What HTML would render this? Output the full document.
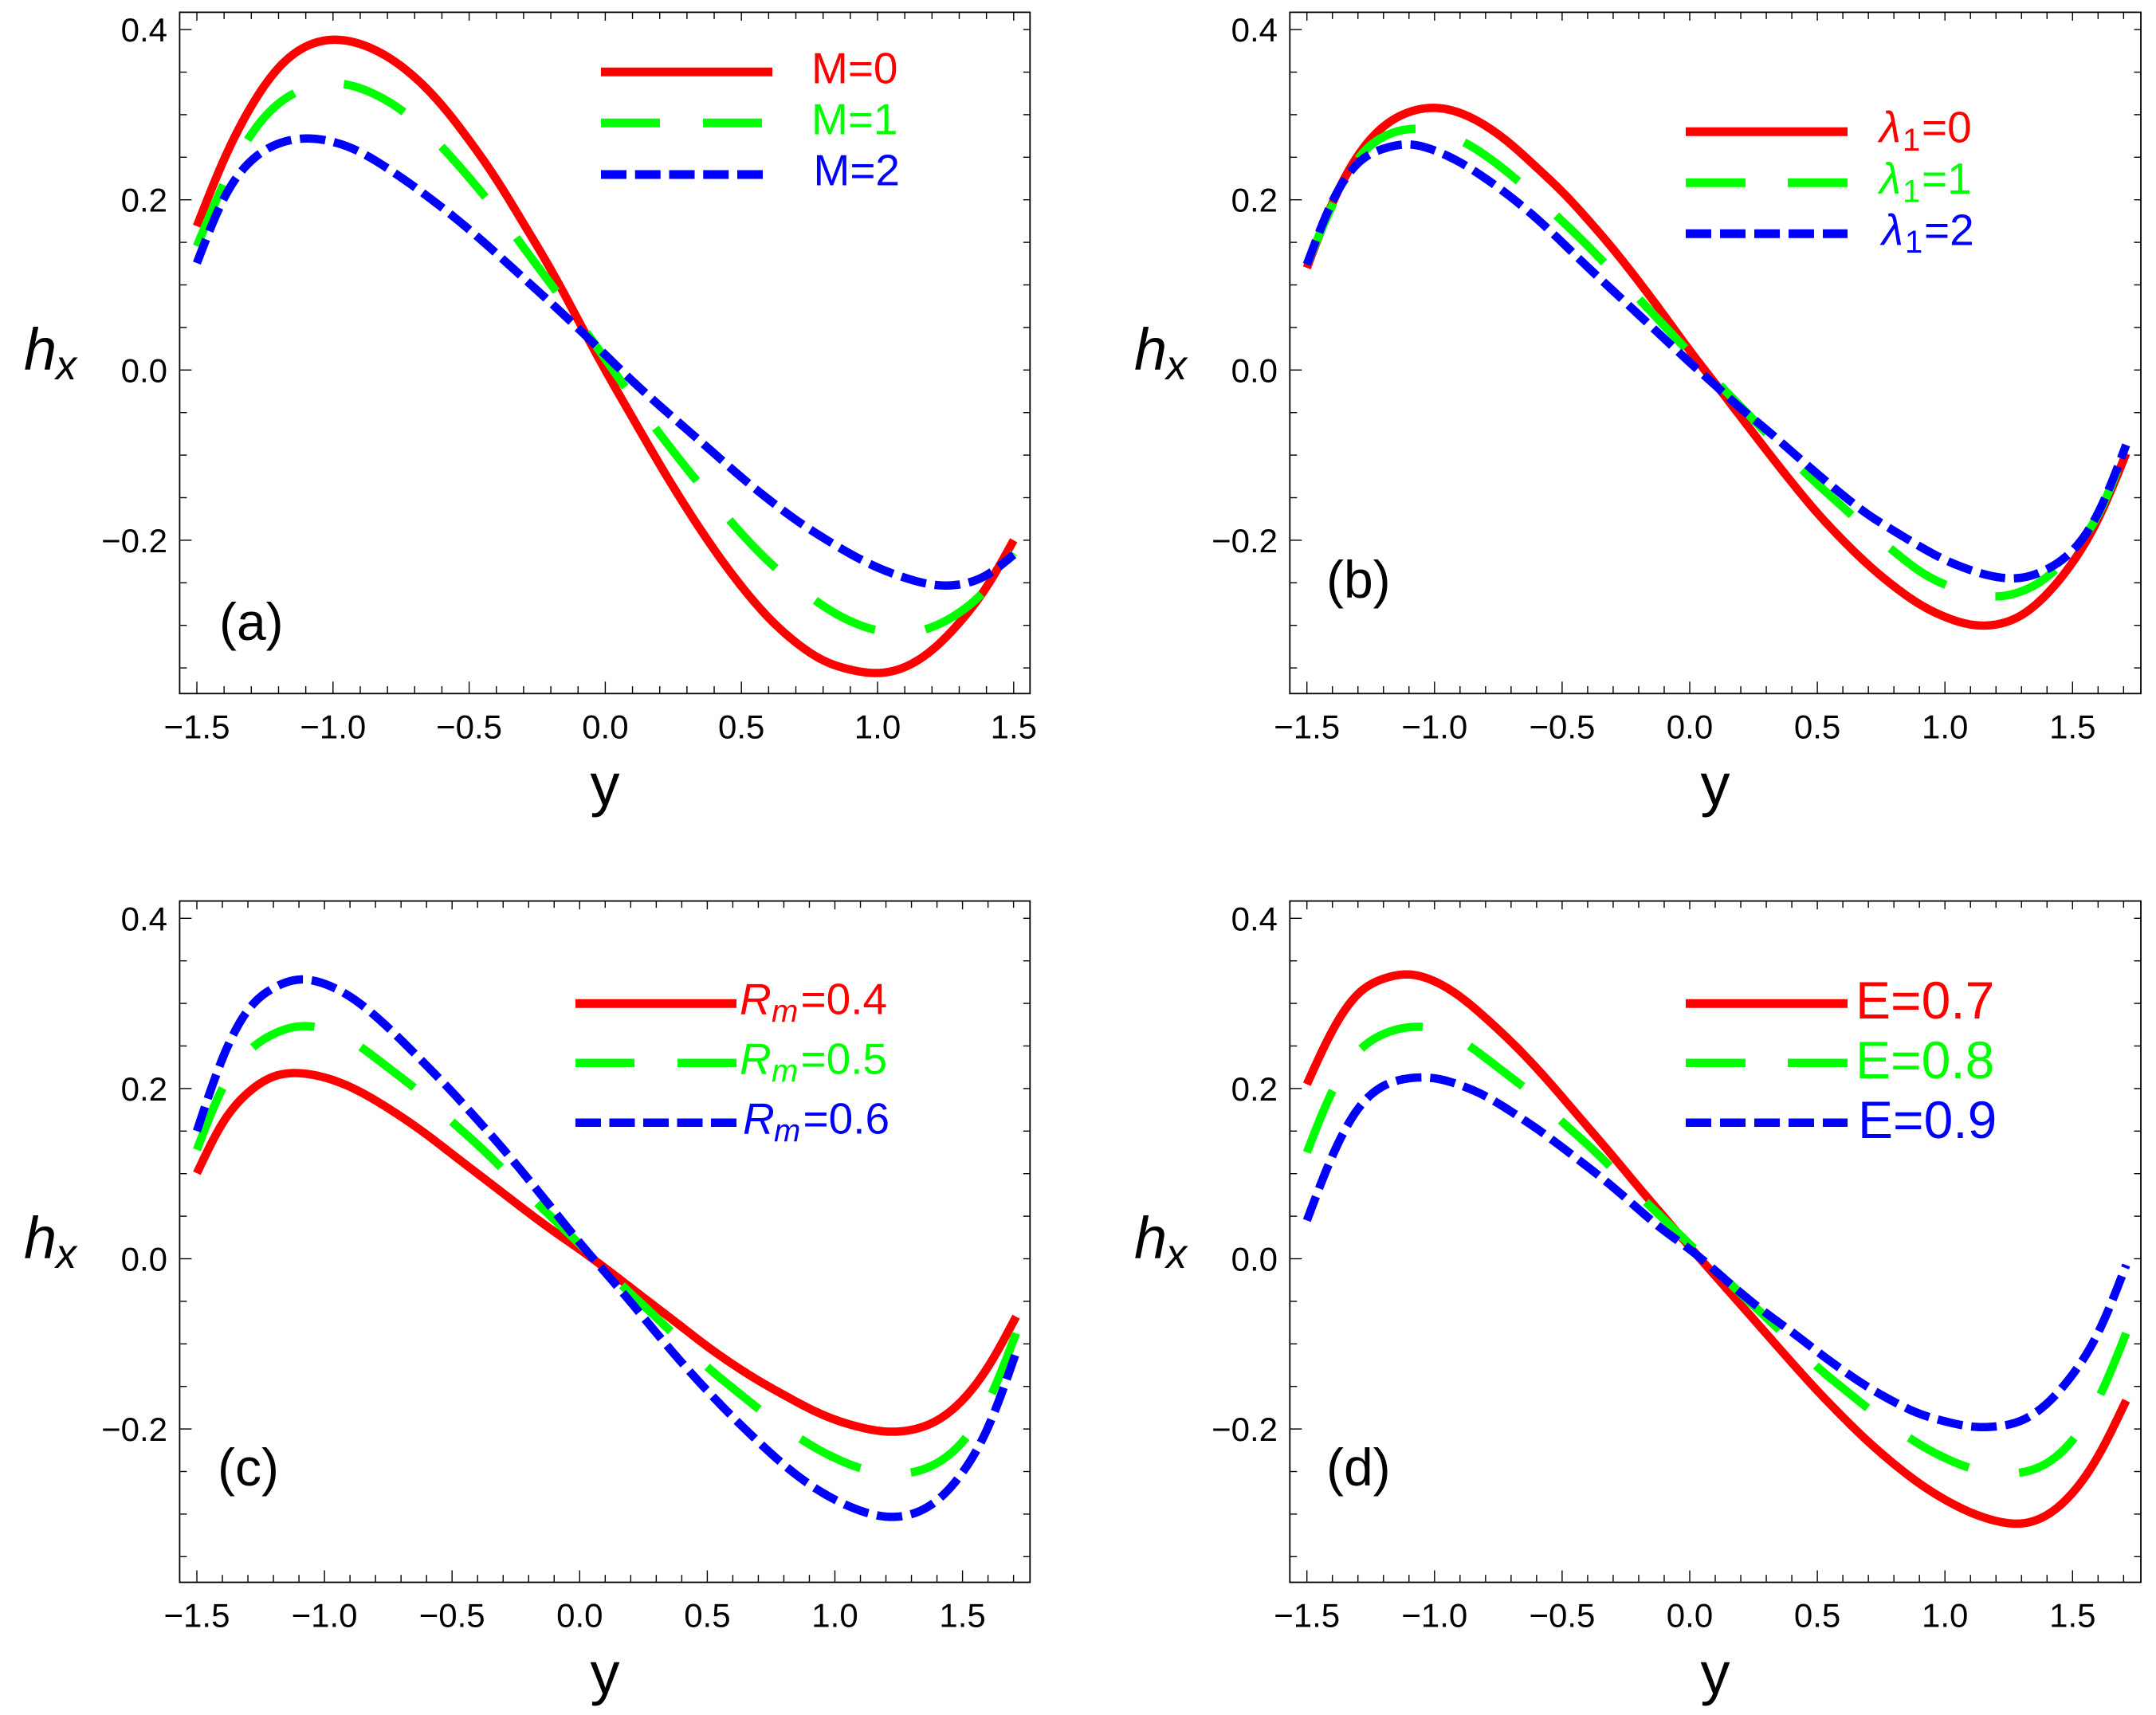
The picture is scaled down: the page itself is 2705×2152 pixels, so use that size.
<!DOCTYPE html>
<html lang="en">
<head>
<meta charset="utf-8">
<title>Induced magnetic field profiles</title>
<style>
html,body{margin:0;padding:0;background:#fff;}
svg{display:block;}
text{font-family:"Liberation Sans",sans-serif;}
</style>
</head>
<body>
<svg id="figure" xmlns="http://www.w3.org/2000/svg" width="2705" height="2152" viewBox="0 0 2705 2152">
<rect x="0" y="0" width="2705" height="2152" fill="#fff"/>

<g>
<line x1="754" x2="969" y1="90.3" y2="90.3" stroke="#f00" stroke-width="11"/>
<line x1="754" x2="957" y1="154.3" y2="154.3" stroke="#0f0" stroke-width="11" stroke-dasharray="74 54"/>
<line x1="754" x2="957" y1="219" y2="219" stroke="#00f" stroke-width="11" stroke-dasharray="32 10.75"/>
<text x="1018" y="104.3" font-size="55" fill="#f00">M=0</text>
<text x="1018" y="168.3" font-size="55" fill="#0f0">M=1</text>
<text x="1020.5" y="232.7" font-size="55" fill="#00f">M=2</text>
</g>

<g>
<line x1="2115" x2="2318" y1="165.3" y2="165.3" stroke="#f00" stroke-width="11"/>
<line x1="2115" x2="2318" y1="229.3" y2="229.3" stroke="#0f0" stroke-width="11" stroke-dasharray="75 53"/>
<line x1="2115" x2="2318" y1="293.3" y2="293.3" stroke="#00f" stroke-width="11" stroke-dasharray="32 11"/>
<text font-size="55" fill="#f00"><tspan x="2358" y="178.3" font-style="italic">λ</tspan><tspan x="2387" y="189" font-size="40">1</tspan><tspan x="2411" y="178.3">=0</tspan></text>
<text font-size="55" fill="#0f0"><tspan x="2358" y="243" font-style="italic">λ</tspan><tspan x="2387" y="253.5" font-size="40">1</tspan><tspan x="2411" y="243">=1</tspan></text>
<text font-size="55" fill="#00f"><tspan x="2361" y="307.3" font-style="italic">λ</tspan><tspan x="2390" y="317" font-size="40">1</tspan><tspan x="2414" y="307.3">=2</tspan></text>
</g>

<g>
<line x1="722" x2="924" y1="1259.3" y2="1259.3" stroke="#f00" stroke-width="11"/>
<line x1="722" x2="924" y1="1333.7" y2="1333.7" stroke="#0f0" stroke-width="10.5" stroke-dasharray="74 54"/>
<line x1="722" x2="924" y1="1408.7" y2="1408.7" stroke="#00f" stroke-width="10.5" stroke-dasharray="32 10.5"/>
<text font-size="55" fill="#f00"><tspan x="928" y="1272.7" font-style="italic">R</tspan><tspan x="968" y="1282.7" font-size="40" font-style="italic">m</tspan><tspan x="1004.5" y="1272.7">=0.4</tspan></text>
<text font-size="55" fill="#0f0"><tspan x="928" y="1347.3" font-style="italic">R</tspan><tspan x="968" y="1357.3" font-size="40" font-style="italic">m</tspan><tspan x="1004.5" y="1347.3">=0.5</tspan></text>
<text font-size="55" fill="#00f"><tspan x="932" y="1422.3" font-style="italic">R</tspan><tspan x="971" y="1432.3" font-size="40" font-style="italic">m</tspan><tspan x="1007.5" y="1422.3">=0.6</tspan></text>
</g>

<g>
<line x1="2115" x2="2318" y1="1259.3" y2="1259.3" stroke="#f00" stroke-width="11"/>
<line x1="2115" x2="2318" y1="1333.7" y2="1333.7" stroke="#0f0" stroke-width="10.5" stroke-dasharray="75 53"/>
<line x1="2115" x2="2318" y1="1408.7" y2="1408.7" stroke="#00f" stroke-width="10.5" stroke-dasharray="32 11"/>
<text x="2328" y="1278" font-size="66" fill="#f00">E=0.7</text>
<text x="2328" y="1353" font-size="66" fill="#0f0">E=0.8</text>
<text x="2331" y="1428" font-size="66" fill="#00f">E=0.9</text>
</g>
</svg>

<script>
// ---- shared axis values ----
const yTickLabels = ["0.4", "0.2", "0.0", "\u22120.2"];
const yTickValues = [0.4, 0.2, 0, -0.2];
const yMinorValues = [0.4, 0.35, 0.3, 0.25, 0.2, 0.15, 0.1, 0.05, 0, -0.05, -0.1, -0.15, -0.2, -0.25, -0.3, -0.35];
const xTickLabels = ["\u22121.5", "\u22121.0", "\u22120.5", "0.0", "0.5", "1.0", "1.5"];
const xTickValues = [-1.5, -1, -0.5, 0, 0.5, 1, 1.5];
const xMinorShort = [-1.5,-1.4,-1.3,-1.2,-1.1,-1.0,-0.9,-0.8,-0.7,-0.6,-0.5,-0.4,-0.3,-0.2,-0.1,0,0.1,0.2,0.3,0.4,0.5,0.6,0.7,0.8,0.9,1.0,1.1,1.2,1.3,1.4,1.5];
const xMinorLong = [-1.5,-1.4,-1.3,-1.2,-1.1,-1.0,-0.9,-0.8,-0.7,-0.6,-0.5,-0.4,-0.3,-0.2,-0.1,0,0.1,0.2,0.3,0.4,0.5,0.6,0.7,0.8,0.9,1.0,1.1,1.2,1.3,1.4,1.5,1.6,1.7];

// ---- categories (y coordinate of the channel) ----
const xShort = [-1.5,-1.4,-1.3,-1.2,-1.1,-1.0,-0.9,-0.8,-0.7,-0.6,-0.5,-0.4,-0.3,-0.2,-0.1,0,0.1,0.2,0.3,0.4,0.5,0.6,0.7,0.8,0.9,1.0,1.1,1.2,1.3,1.4,1.5];
const xLong = [-1.5,-1.4,-1.3,-1.2,-1.1,-1.0,-0.9,-0.8,-0.7,-0.6,-0.5,-0.4,-0.3,-0.2,-0.1,0,0.1,0.2,0.3,0.4,0.5,0.6,0.7,0.8,0.9,1.0,1.1,1.2,1.3,1.4,1.5,1.6,1.71];

// ---- panel (a) series ----
const seriesM0 = [0.169,0.2475,0.310,0.355,0.380,0.388,0.383,0.368,0.344,0.311,0.270,0.224,0.172,0.118,0.059,0.000,-0.056,-0.111,-0.163,-0.211,-0.254,-0.291,-0.320,-0.341,-0.352,-0.356,-0.349,-0.329,-0.297,-0.255,-0.200];
const seriesM1 = [0.1455,0.2195,0.277,0.313,0.331,0.337,0.331,0.316,0.293,0.262,0.226,0.187,0.144,0.101,0.058,0.013,-0.032,-0.075,-0.116,-0.155,-0.192,-0.225,-0.253,-0.277,-0.295,-0.306,-0.309,-0.302,-0.285,-0.257,-0.215];
const seriesM2 = [0.1256,0.202,0.246,0.266,0.272,0.268,0.256,0.237,0.215,0.191,0.165,0.137,0.108,0.079,0.049,0.018,-0.013,-0.042,-0.070,-0.098,-0.126,-0.152,-0.176,-0.197,-0.216,-0.232,-0.244,-0.252,-0.252,-0.241,-0.217];

// ---- panel (b) series ----
const seriesL0 = [0.120,0.196,0.252,0.286,0.303,0.308,0.302,0.287,0.265,0.238,0.2095,0.177,0.142,0.104,0.064,0.023,-0.016,-0.055,-0.094,-0.132,-0.168,-0.200,-0.229,-0.254,-0.275,-0.290,-0.299,-0.299,-0.288,-0.263,-0.226,-0.175,-0.098];
const seriesL1 = [0.124,0.194,0.248,0.274,0.283,0.281,0.270,0.252,0.229,0.203,0.175,0.146,0.115,0.084,0.052,0.020,-0.012,-0.043,-0.074,-0.105,-0.134,-0.161,-0.188,-0.213,-0.236,-0.252,-0.262,-0.266,-0.260,-0.243,-0.213,-0.170,-0.091];
const seriesL2 = [0.124,0.198,0.243,0.260,0.265,0.258,0.244,0.225,0.203,0.178,0.150,0.121,0.093,0.065,0.037,0.009,-0.018,-0.045,-0.070,-0.096,-0.122,-0.147,-0.170,-0.189,-0.207,-0.223,-0.235,-0.243,-0.244,-0.234,-0.212,-0.168,-0.088];

// ---- panel (c) series ----
const seriesR4 = [0.1005,0.159,0.195,0.214,0.218,0.213,0.202,0.186,0.167,0.146,0.123,0.100,0.077,0.054,0.032,0.011,-0.011,-0.034,-0.057,-0.080,-0.103,-0.124,-0.143,-0.160,-0.176,-0.189,-0.198,-0.203,-0.201,-0.190,-0.166,-0.127,-0.068];
const seriesR5 = [0.128,0.200,0.243,0.264,0.273,0.270,0.257,0.236,0.213,0.189,0.161,0.134,0.105,0.075,0.046,0.017,-0.012,-0.041,-0.069,-0.098,-0.127,-0.152,-0.176,-0.198,-0.218,-0.234,-0.246,-0.252,-0.251,-0.240,-0.215,-0.168,-0.0875];
const seriesR6 = [0.150,0.235,0.292,0.318,0.328,0.323,0.308,0.285,0.257,0.227,0.196,0.163,0.129,0.093,0.056,0.019,-0.016,-0.051,-0.087,-0.122,-0.155,-0.186,-0.215,-0.242,-0.265,-0.283,-0.296,-0.303,-0.300,-0.284,-0.251,-0.198,-0.110];

// ---- panel (d) series ----
const seriesE7 = [0.205,0.268,0.311,0.329,0.334,0.326,0.308,0.283,0.255,0.224,0.190,0.155,0.120,0.084,0.049,0.014,-0.020,-0.054,-0.088,-0.122,-0.155,-0.186,-0.215,-0.241,-0.264,-0.283,-0.298,-0.308,-0.311,-0.301,-0.275,-0.232,-0.1665];
const seriesE8 = [0.125,0.197,0.243,0.264,0.272,0.270,0.257,0.236,0.213,0.189,0.161,0.134,0.105,0.075,0.046,0.017,-0.012,-0.041,-0.069,-0.098,-0.127,-0.152,-0.176,-0.198,-0.218,-0.234,-0.246,-0.252,-0.251,-0.240,-0.213,-0.165,-0.0875];
const seriesE9 = [0.045,0.121,0.176,0.203,0.212,0.212,0.204,0.191,0.173,0.153,0.131,0.108,0.084,0.058,0.033,0.011,-0.014,-0.040,-0.064,-0.086,-0.109,-0.131,-0.151,-0.168,-0.182,-0.191,-0.197,-0.197,-0.190,-0.170,-0.136,-0.087,-0.0074];

// ---- series styling ----
const RED = {color: "#ff0000", dash: null};
const GREEN = {color: "#00ff00", dash: "84 64"};
const BLUE = {color: "#0000ff", dash: "32 11"};

// ---- panel layout ----
const panels = [
  {id: "a", dx: 0, dy: 0, left: 225.4, right: 1292.3, x0: 759.4, sx: 341.6, xs: xShort, ticks: xMinorShort, xEnd: 1.5, titleX: 759,
   lines: [[seriesM0, RED, "m0"], [seriesM1, GREEN, "m1"], [seriesM2, BLUE, "m2"]], tagX: 275, tagY: 803},
  {id: "b", dx: 1393, dy: 0, left: 1618.3, right: 2686, x0: 2120, sx: 320.2, xs: xLong, ticks: xMinorLong, xEnd: 1.71, titleX: 2152,
   lines: [[seriesL0, RED, "l0"], [seriesL1, GREEN, "l1"], [seriesL2, BLUE, "l2"]], tagX: 1664, tagY: 750},
  {id: "c", dx: 0, dy: 1115.2, left: 225.4, right: 1292.3, x0: 727.3, sx: 320.2, xs: xLong, ticks: xMinorLong, xEnd: 1.71, titleX: 759,
   lines: [[seriesR4, RED, "r4"], [seriesR5, GREEN, "r5"], [seriesR6, BLUE, "r6"]], tagX: 273, tagY: 1864},
  {id: "d", dx: 1393, dy: 1115.2, left: 1618.3, right: 2686, x0: 2120, sx: 320.2, xs: xLong, ticks: xMinorLong, xEnd: 1.71, titleX: 2152,
   lines: [[seriesE7, RED, "e7"], [seriesE8, GREEN, "e8"], [seriesE9, BLUE, "e9"]], tagX: 1664, tagY: 1864}
];

const NS = "http://www.w3.org/2000/svg";
const root = document.getElementById("figure");

function make(tag, attrs, parent, txt) {
  const n = document.createElementNS(NS, tag);
  for (const k in attrs) n.setAttribute(k, attrs[k]);
  if (txt !== undefined) n.textContent = txt;
  parent.appendChild(n);
  return n;
}

// natural cubic spline through the read values
function spline(xs, ys) {
  const n = xs.length;
  const h = [], al = [0], l = [1], mu = [0], z = [0], c = new Array(n).fill(0), b = [], d = [];
  for (let i = 0; i < n - 1; i++) h[i] = xs[i + 1] - xs[i];
  for (let i = 1; i < n - 1; i++) {
    al[i] = 3 / h[i] * (ys[i + 1] - ys[i]) - 3 / h[i - 1] * (ys[i] - ys[i - 1]);
    l[i] = 2 * (xs[i + 1] - xs[i - 1]) - h[i - 1] * mu[i - 1];
    mu[i] = h[i] / l[i];
    z[i] = (al[i] - h[i - 1] * z[i - 1]) / l[i];
  }
  for (let j = n - 2; j >= 0; j--) {
    c[j] = (j === 0 ? 0 : z[j]) - (j === 0 ? 0 : mu[j]) * c[j + 1];
    b[j] = (ys[j + 1] - ys[j]) / h[j] - h[j] * (c[j + 1] + 2 * c[j]) / 3;
    d[j] = (c[j + 1] - c[j]) / (3 * h[j]);
  }
  return function (x) {
    let i = 0;
    while (i < n - 2 && x > xs[i + 1]) i++;
    const t = x - xs[i];
    return ys[i] + b[i] * t + c[i] * t * t + d[i] * t * t * t;
  };
}

panels.forEach(function (p) {
  const TOP = 15.4 + p.dy, BOTTOM = 870.3 + p.dy;
  const xScale = function (v) { return p.x0 + v * p.sx; };
  const yScale = function (v) { return 464.3 + p.dy - v * 1068; };

  const g = make("g", {}, root);
  
  

  // frame
  const frame = make("rect", {x: p.left, y: TOP, width: p.right - p.left, height: BOTTOM - TOP, fill: "none", stroke: "#000", "stroke-width": 1.8}, g);
  
  

  // x ticks (bottom + top)
  p.ticks.forEach(function (v) {
    const major = xTickValues.indexOf(v) >= 0;
    const px = xScale(v);
    const b = make("line", {x1: px, x2: px, y1: BOTTOM, y2: BOTTOM - (major ? 15 : 9.3), stroke: "#000", "stroke-width": 1.4}, g);
    
    
    const t = make("line", {x1: px, x2: px, y1: TOP, y2: TOP + (major ? 10.5 : 8.5), stroke: "#000", "stroke-width": 1.4}, g);
    
    
  });

  // y ticks (left + right)
  yMinorValues.forEach(function (v) {
    const major = yTickValues.indexOf(v) >= 0;
    const py = yScale(v);
    const l = make("line", {x1: p.left, x2: p.left + (major ? 15 : 9), y1: py, y2: py, stroke: "#000", "stroke-width": 1.4}, g);
    
    
    const r = make("line", {x1: p.right, x2: p.right - 8.5, y1: py, y2: py, stroke: "#000", "stroke-width": 1.4}, g);
    
    
  });

  // tick labels
  xTickValues.forEach(function (v, i) {
    const tx = make("text", {x: xScale(v), y: BOTTOM + 56, "font-size": 42, "text-anchor": "middle", fill: "#000"}, g, xTickLabels[i]);
    
    
  });
  yTickValues.forEach(function (v, i) {
    const ty = make("text", {x: 210 + p.dx, y: yScale(v) + 15, "font-size": 42, "text-anchor": "end", fill: "#000"}, g, yTickLabels[i]);
    
    
  });

  // axis titles
  const xTitle = make("text", {x: p.titleX, y: 1010 + p.dy, "font-size": 74, "text-anchor": "middle", fill: "#000"}, g, "y");
  
  
  const yTitle = make("text", {x: 30 + p.dx, y: 464 + p.dy, "font-size": 74, "font-style": "italic", fill: "#000"}, g, "h");
  
  
  const ySub = make("text", {x: 70 + p.dx, y: 476 + p.dy, "font-size": 52, "font-style": "italic", fill: "#000"}, g, "x");
  
  

  // panel tag
  const tag = make("text", {x: p.tagX, y: p.tagY, "font-size": 66, fill: "#000"}, g, "(" + p.id + ")");
  
  

  // curves
  p.lines.forEach(function (line) {
    const f = spline(p.xs, line[0]);
    const pts = [];
    const steps = Math.round((p.xEnd + 1.5) * 100);
    for (let i = 0; i <= steps; i++) {
      const v = -1.5 + i / 100;
      pts.push((i ? "L" : "M") + xScale(v).toFixed(2) + " " + yScale(f(v)).toFixed(2));
    }
    const attrs = {d: pts.join(""), fill: "none", stroke: line[1].color, "stroke-width": 10.5, "stroke-linejoin": "round"};
    if (line[1].dash) attrs["stroke-dasharray"] = line[1].dash;
    const curve = make("path", attrs, g);
    
    
  });
});
</script>
</body>
</html>
